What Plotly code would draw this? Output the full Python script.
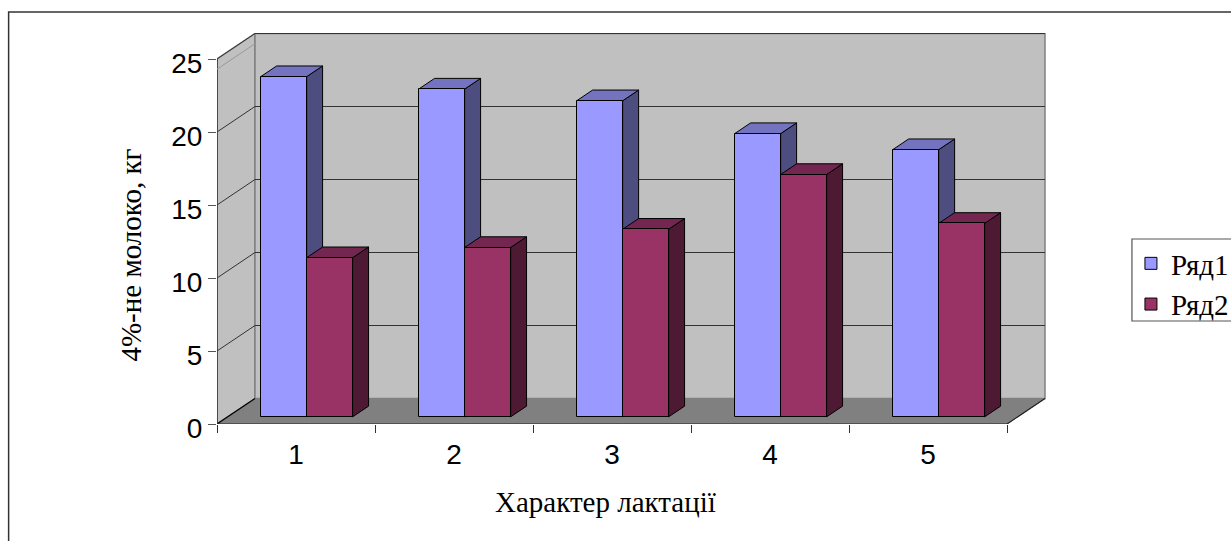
import plotly.graph_objects as go

categories = [1, 2, 3, 4, 5]
tick_labels = ["1", "2", "3", "4", "5"]
series1 = [23.3, 22.45, 21.65, 19.4, 18.3]
series2 = [10.9, 11.6, 12.85, 16.6, 13.25]
names = ["Ряд1", "Ряд2"]
y_ticks = [0, 5, 10, 15, 20, 25]

W, H = 1231, 541
L, R, T, B = 216.5, 1046.0, 33.0, 424.0
PX_X = 158.1
PX_Y = 14.6
DX = 38.0 / PX_X
DY = 25.5 / PX_Y
X0 = 0.5
X1 = X0 + (R - L) / PX_X
XE = 5.5
Y1 = (B - T) / PX_Y
D0, D1 = 0.28, 0.70
BW = 46.0 / PX_X


def pr(x, y, d):
    return x + d * DX, y + d * DY


def fx(px):
    return (px - L) / (R - L)


def fy(py):
    return (B - py) / (B - T)


fig = go.Figure()


def poly(pts, fill=None, line="#000000", width=1.0):
    xs = [p[0] for p in pts]
    ys = [p[1] for p in pts]
    if fill:
        xs.append(xs[0])
        ys.append(ys[0])
    fig.add_trace(go.Scatter(
        x=xs, y=ys, mode="lines", fill="toself" if fill else None,
        fillcolor=fill, line=dict(color=line, width=width),
        showlegend=False, hoverinfo="skip", cliponaxis=False))


# walls and floor
poly([pr(X0, 0, 0), pr(X0, 0, 1), pr(X0, 25, 1), pr(X0, 25, 0)], "#C0C0C0", "#808080", 1.5)
poly([pr(X0, 0, 1), pr(XE, 0, 1), pr(XE, 25, 1), pr(X0, 25, 1)], "#C0C0C0", "#808080", 1.5)
poly([pr(X0, 0, 0), pr(XE, 0, 0), pr(XE, 0, 1), pr(X0, 0, 1)], "#808080", "#808080", 1)
for v in y_ticks[1:]:
    poly([pr(X0, v, 0), pr(X0, v, 1), pr(XE, v, 1)], None, "#333333", 1)
poly([pr(X0, 0, 0), pr(X0, 0, 1)], None, "#000000", 1.2)
poly([pr(X0, 0, 0), pr(XE, 0, 0), pr(XE, 0, 1)], None, "#222222", 1.2)
poly([pr(X0, 0, 0), pr(X0, 25, 0)], None, "#333333", 1.5)
poly([pr(X0, 24.3, 0), pr(X0, 24.3, 1)], None, "#9A9A9A", 1)
poly([pr(X0, 0, 0), pr(X0, -0.75, 0), pr(X0 + 0.1, -0.05, 0)], None, "#A8A8A8", 1)

# depth faces of the bars
colors = [("#9999FF", "#7373BF", "#4D4D80"), ("#993366", "#732650", "#4D1933")]
bar_shift = D0 * DX
base = D0 * DY
for c, a, b in zip(categories, series1, series2):
    for j, v in enumerate((a, b)):
        xl = c + bar_shift - BW + j * BW
        xr = xl + BW
        ytop = v + base
        poly([(xr, base), pr(xr, base, D1 - D0), pr(xr, ytop, D1 - D0), (xr, ytop)],
             colors[j][2], "#000000", 1)
        poly([(xl, ytop), (xr, ytop), pr(xr, ytop, D1 - D0), pr(xl, ytop, D1 - D0)],
             colors[j][1], "#000000", 1)

# front faces, on an overlaying axis pair so they sit above the neighbouring depth faces
for j, vals in enumerate((series1, series2)):
    fig.add_trace(go.Bar(
        x=[c + bar_shift - BW / 2 + j * BW for c in categories], y=vals, base=base,
        width=BW, name=names[j], xaxis="x2", yaxis="y2",
        marker=dict(color=colors[j][0], line=dict(color="#000000", width=1))))

SANS = "Liberation Sans"
SERIF = "Liberation Serif"
fig.update_layout(
    width=W, height=H, autosize=False,
    margin=dict(l=L, r=W - R, t=T, b=H - B, pad=0, autoexpand=False),
    paper_bgcolor="#FFFFFF", plot_bgcolor="rgba(0,0,0,0)",
    barmode="overlay", bargap=0,
    xaxis=dict(range=[X0, X1], tickmode="array", tickvals=categories, ticktext=tick_labels,
               showgrid=False, zeroline=False, showline=False, ticks="outside", ticklen=5,
               tickcolor="rgba(0,0,0,0)",
               tickfont=dict(family=SANS, size=28, color="#000000"),
               minor=dict(tick0=0.5, dtick=1, ticks="outside", ticklen=8, tickcolor="#333333",
                          tickwidth=1, showgrid=False)),
    yaxis=dict(range=[0, Y1], tickmode="array", tickvals=y_ticks,
               showgrid=False, zeroline=False, showline=False, ticks="outside", ticklen=8,
               tickcolor="#555555", tickwidth=1, ticklabelshift=4,
               tickfont=dict(family=SANS, size=28, color="#000000")),
    xaxis2=dict(range=[X0, X1], overlaying="x", visible=False),
    yaxis2=dict(range=[0, Y1], overlaying="y", visible=False),
    legend=dict(x=fx(1131), y=fy(238), xanchor="left", yanchor="top",
                bgcolor="rgba(0,0,0,0)", borderwidth=0,
                font=dict(family=SERIF, size=29, color="#000000"),
                traceorder="normal"),
    shapes=[dict(type="rect", xref="paper", yref="paper", x0=fx(8), x1=fx(1260), y0=fy(560), y1=fy(12),
                 line=dict(color="#333333", width=1.5), fillcolor="rgba(0,0,0,0)", layer="below"),
            dict(type="rect", xref="paper", yref="paper", x0=fx(1132), x1=fx(1260), y0=fy(321), y1=fy(239),
                 line=dict(color="#555555", width=1.2), fillcolor="#FFFFFF", layer="below")],
    annotations=[
        dict(text="Характер лактації", xref="paper", yref="paper", x=fx(605), y=fy(502),
             showarrow=False, xanchor="center", yanchor="middle",
             font=dict(family=SERIF, size=29, color="#000000")),
        dict(text="4%-не молоко, кг", xref="paper", yref="paper", x=fx(130), y=fy(255),
             showarrow=False, xanchor="center", yanchor="middle", textangle=-90,
             font=dict(family=SERIF, size=29, color="#000000")),
    ],
)

fig.write_html("out.html", config=dict(displayModeBar=False),
               post_script="document.body.style.margin='0';document.body.style.overflow='hidden';")
